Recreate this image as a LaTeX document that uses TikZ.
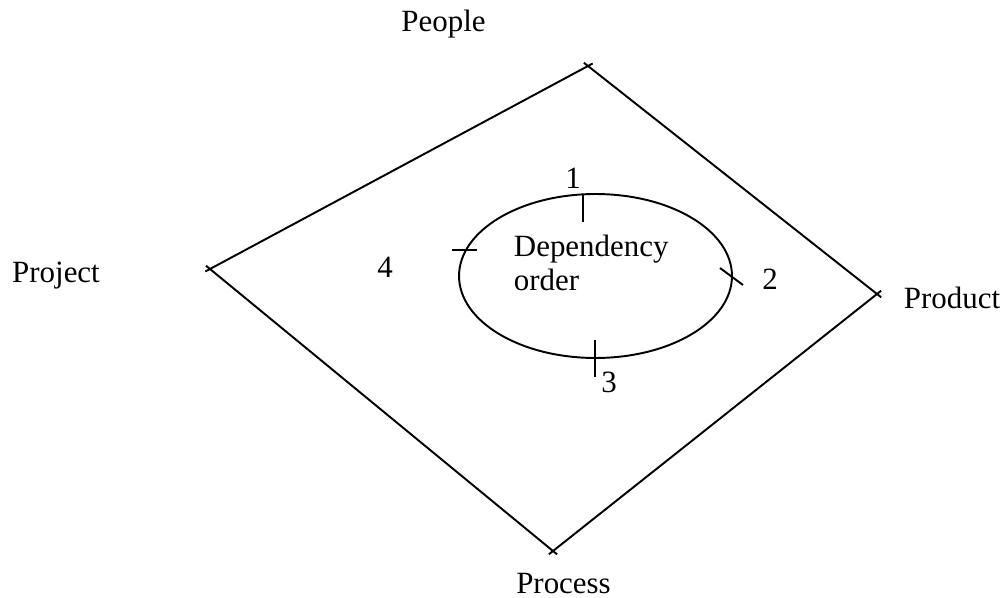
\documentclass[tikz,border=0pt]{standalone}
\usepackage{fontspec}
\setmainfont{Liberation Serif}
\usetikzlibrary{shapes.geometric}
\tikzset{
  lbl/.style={anchor=base, inner sep=0pt, font=\fontsize{17.6}{20}\selectfont},
  side/.style={shorten <=-3pt, shorten >=-3pt},
}
\begin{document}
\begin{tikzpicture}[x=0.02cm, y=-0.02cm, line width=1.1pt]
            \useasboundingbox (0,0) rectangle (1007,598);
            % corners
            \coordinate (people) at (588,66);
            \coordinate (product) at (877,294);
            \coordinate (process) at (553,551);
            \coordinate (project) at (210,269);
            \draw[side] (project) -- (people);
            \draw[side] (people) -- (product);
            \draw[side] (product) -- (process);
            \draw[side] (process) -- (project);
            \node[lbl] (peoplelbl) at (443.5,32) {People};
            \node[lbl] (projectlbl) at (56,282) {Project};
            \node[lbl] (productlbl) at (952,308) {Product};
            \node[lbl] (processlbl) at (563.5,593) {Process};
            % inner ring
            \node[draw, ellipse, minimum width=5.46cm, minimum height=3.28cm, inner sep=0pt] (dep) at (595.5,276) {};
            \node[lbl, anchor=base west] (deptxt) at (513,256) {Dependency};
            \node[lbl, anchor=base west] (ordtxt) at (513,290) {order};
            \draw (583,195) -- (583,222);
            \draw (452,250) -- (477,250);
            \draw (720,268) -- (743,285);
            \draw (595,340) -- (595,377);
            \node[lbl] (one) at (573,188) {1};
            \node[lbl] (two) at (770,289) {2};
            \node[lbl] (three) at (609,392) {3};
            \node[lbl] (four) at (385,277) {4};
        \end{tikzpicture}
\end{document}
